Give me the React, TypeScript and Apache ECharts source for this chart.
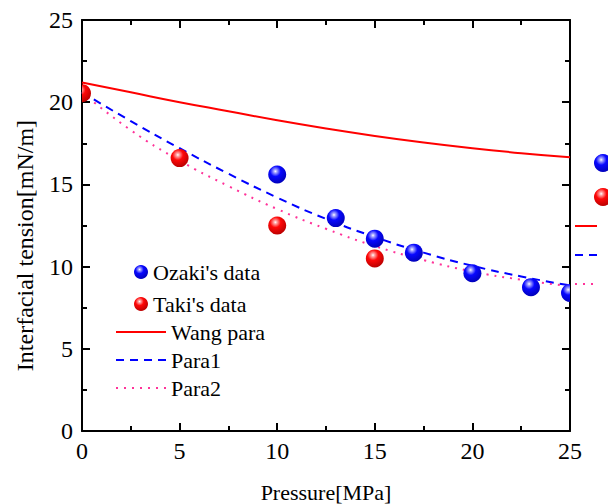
import React, { useEffect, useRef } from "react";
import * as echarts from "echarts";

const pressureGrid = [0, 2.5, 5, 7.5, 10, 12.5, 15, 17.5, 20, 22.5, 25];
const wangPara = [21.2, 20.6, 20.0, 19.45, 18.9, 18.4, 17.95, 17.55, 17.2, 16.9, 16.65];
const para1 = [20.6, 18.85, 17.2, 15.65, 14.2, 12.9, 11.8, 10.85, 10.05, 9.4, 8.85];
const para2 = [20.6, 18.3, 16.45, 14.9, 13.5, 12.3, 11.25, 10.4, 9.7, 9.2, 8.8];

const ozakiP = [10, 13, 15, 17, 20, 23, 25];
const ozakiV = [15.6, 12.95, 11.7, 10.85, 9.6, 8.75, 8.4];
const takiP = [0, 5, 10, 15];
const takiV = [20.55, 16.6, 12.5, 10.5];

const FONT = "'Liberation Serif', 'DejaVu Serif', serif";

function ballGrad(main: string, dark: string, light: string) {
  return new echarts.graphic.RadialGradient(0.4, 0.32, 0.7, [
    { offset: 0, color: "#ffffff" },
    { offset: 0.12, color: light },
    { offset: 0.42, color: main },
    { offset: 1, color: dark },
  ]);
}

export default function App() {
  const ref = useRef<HTMLDivElement>(null);
  useEffect(() => {
    if (!ref.current) return;
    const chart = echarts.init(ref.current, undefined, { renderer: "svg" });
    const blueG = () => ballGrad("#0808ff", "#0000b8", "#a8a8ff");
    const redG = () => ballGrad("#ff0808", "#b80000", "#ffa8a8");
    const pink = "#ff3399";
    const axisCommon = {
      min: 0,
      max: 25,
      interval: 5,
      splitLine: { show: false },
      axisLine: { show: true, onZero: false, lineStyle: { color: "#000", width: 2 } },
      axisTick: { show: true, inside: true, length: 8, lineStyle: { color: "#000", width: 2 } },
      minorTick: { show: true, splitNumber: 2, length: 5, lineStyle: { color: "#000", width: 2 } },
      minorSplitLine: { show: false },
    };
    const zip = (xs: number[], ys: number[]) => xs.map((x, i) => [x, ys[i]]);
    const ball = (grad: () => any) => (params: any, api: any) => {
      const p = api.coord([api.value(0), api.value(1)]);
      return { type: "circle", shape: { cx: p[0], cy: p[1], r: 9 }, style: { fill: grad() } };
    };
    const legendText = { fontFamily: FONT, fontSize: 22, color: "#000", lineHeight: 22 };
    const option: any = {
      animation: false,
      backgroundColor: "#fff",
      textStyle: { fontFamily: FONT },
      grid: { left: 82, right: 38, top: 20, bottom: 73, containLabel: false, outerBoundsMode: "none" },
      xAxis: [
        {
          ...axisCommon,
          type: "value",
          position: "bottom",
          name: "Pressure[MPa]",
          nameLocation: "middle",
          nameGap: 50,
          nameTextStyle: { fontFamily: FONT, fontSize: 22, color: "#000" },
          axisLabel: { fontFamily: FONT, fontSize: 24, color: "#000", margin: 8 },
        },
        { ...axisCommon, type: "value", position: "top", axisLabel: { show: false } },
      ],
      yAxis: [
        {
          ...axisCommon,
          type: "value",
          position: "left",
          name: "Interfacial tension[mN/m]",
          nameLocation: "middle",
          nameGap: 45,
          nameTextStyle: { fontFamily: FONT, fontSize: 24, color: "#000", padding: [0, 40, 0, 0] },
          axisLabel: { fontFamily: FONT, fontSize: 24, color: "#000", margin: 9 },
        },
        { ...axisCommon, type: "value", position: "right", axisLabel: { show: false } },
      ],
      legend: [
        {
          orient: "vertical",
          left: 134,
          top: 261,
          padding: 0,
          itemWidth: 14,
          itemHeight: 14,
          itemGap: 10,
          itemTextGap: 24,
          textStyle: legendText,
          data: [
            { name: "Ozaki's data", icon: "circle", itemStyle: { color: blueG() } },
            { name: "Taki's data", icon: "circle", itemStyle: { color: redG() } },
          ],
        },
        {
          orient: "vertical",
          left: 115,
          top: 321,
          padding: 0,
          itemWidth: 50,
          itemHeight: 14,
          itemGap: 6,
          itemTextGap: 6,
          itemStyle: { opacity: 0 },
          textStyle: legendText,
          data: ["Wang para", "Para1", "Para2"],
        },
      ],
      series: [
        {
          name: "Wang para",
          type: "line",
          smooth: true,
          showSymbol: false,
          symbol: "none",
          lineStyle: { color: "#ff0000", width: 2 },
          itemStyle: { color: "#ff0000", opacity: 0 },
          data: zip(pressureGrid, wangPara),
          z: 2,
        },
        {
          name: "Para1",
          type: "line",
          smooth: true,
          showSymbol: false,
          symbol: "none",
          lineStyle: { color: "#0000ff", width: 2, type: [8, 6] },
          itemStyle: { color: "#0000ff", opacity: 0 },
          data: zip(pressureGrid, para1),
          z: 2,
        },
        {
          name: "Para2",
          type: "line",
          smooth: true,
          showSymbol: false,
          symbol: "none",
          lineStyle: { color: pink, width: 2, type: [2, 6] },
          itemStyle: { color: pink, opacity: 0 },
          data: zip(pressureGrid, para2),
          z: 2,
        },
        {
          name: "Ozaki's data",
          type: "custom",
          clip: true,
          encode: { x: 0, y: 1 },
          itemStyle: { color: "#0808ff" },
          renderItem: ball(blueG),
          data: zip(ozakiP, ozakiV),
          z: 3,
        },
        {
          name: "Taki's data",
          type: "custom",
          clip: true,
          encode: { x: 0, y: 1 },
          itemStyle: { color: "#ff0808" },
          renderItem: ball(redG),
          data: zip(takiP, takiV),
          z: 3,
        },
      ],
      graphic: [
        { type: "circle", left: 594, top: 154, shape: { r: 9 }, style: { fill: blueG() } },
        { type: "circle", left: 594, top: 188, shape: { r: 9 }, style: { fill: redG() } },
        { type: "line", shape: { x1: 575, y1: 226, x2: 597, y2: 226 }, style: { stroke: "#ff0000", lineWidth: 2 } },
        { type: "line", shape: { x1: 575, y1: 255, x2: 597, y2: 255 }, style: { stroke: "#0000ff", lineWidth: 2, lineDash: [8, 6] } },
        { type: "line", shape: { x1: 575, y1: 284, x2: 597, y2: 284 }, style: { stroke: pink, lineWidth: 2, lineDash: [2, 6] } },
      ],
    };
    chart.setOption(option);
    return () => chart.dispose();
  }, []);
  return <div ref={ref} style={{ width: 608, height: 504, position: "absolute", left: 0, top: 0 }} />;
}
